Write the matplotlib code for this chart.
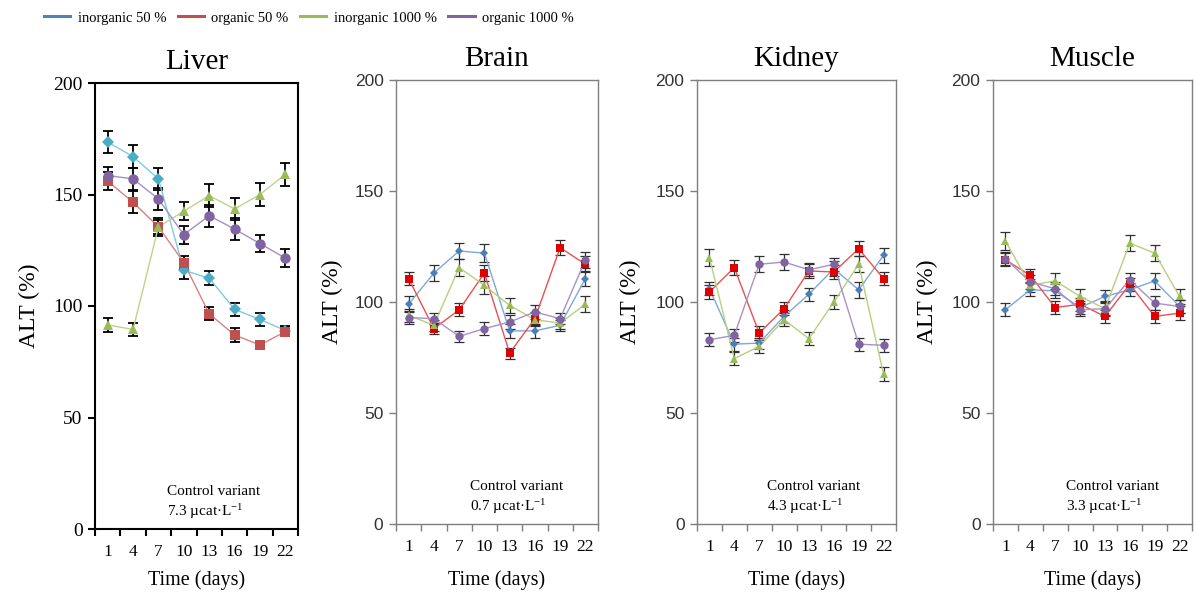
import numpy as np
import matplotlib
matplotlib.use("Agg")
import matplotlib.pyplot as plt
from matplotlib.lines import Line2D

plt.rcParams["font.family"] = ["Liberation Serif", "DejaVu Serif"]
plt.rcParams["mathtext.fontset"] = "custom"
plt.rcParams["mathtext.rm"] = "Liberation Serif"
plt.rcParams["mathtext.default"] = "rm"

# --- Data (ALT activity, % of control)
days = ["1", "4", "7", "10", "13", "16", "19", "22"]
series_names = ["inorganic 50 %", "organic 50 %", "inorganic 1000 %", "organic 1000 %"]
organs = ["Liver", "Brain", "Kidney", "Muscle"]
control_values = ["7.3", "0.7", "4.3", "3.3"]

liver_inorg50 = [173.5, 167, 157, 116, 112.5, 98.5, 94, 89]
liver_org50 = [156, 146.5, 135.5, 119.5, 96.5, 87, 82.5, 88.5]
liver_inorg1000 = [91.5, 89.5, 135.5, 142.5, 149.5, 143.5, 150, 159]
liver_org1000 = [158.5, 157, 148, 132, 140.5, 134.5, 128, 121.5]

brain_inorg50 = [99, 113, 123, 122, 87, 87, 89.5, 110.5]
brain_org50 = [110.5, 88, 96.5, 113, 77, 92.5, 124.5, 117]
brain_inorg1000 = [94, 89.5, 115.5, 107.5, 98.5, 92, 90.5, 99]
brain_org1000 = [93, 92.5, 84.5, 88, 91, 95.5, 92.5, 119]

kidney_inorg50 = [106, 81, 81.5, 93.5, 103.5, 115, 105.5, 121]
kidney_org50 = [104.5, 115.5, 86, 97, 114, 113.5, 124, 110.5]
kidney_inorg1000 = [120, 74.5, 80, 92, 83.5, 100, 117, 67.5]
kidney_org1000 = [83, 85, 117, 118, 114.5, 117, 81, 80.5]

muscle_inorg50 = [96.5, 105.5, 105, 97.5, 102.5, 105.5, 109.5, 98]
muscle_org50 = [119, 112, 97.5, 99, 93.5, 108, 93.5, 95]
muscle_inorg1000 = [127.5, 107.5, 109.5, 102.5, 97, 126.5, 122, 102.5]
muscle_org1000 = [119.5, 109, 106, 96.5, 97, 110, 99.5, 98]

# error bars (SD)
liver_err = [
    [5, 5, 5, 4, 3, 3, 3, 2],
    [4, 5, 3, 3, 3, 3, 2, 2],
    [3, 3, 4, 4, 5, 5, 5, 5],
    [4, 5, 5, 4, 5, 5, 4, 4],
]
brain_err = [
    [3.5, 3.5, 3.5, 4, 3, 3, 2.5, 3.5],
    [3, 2.5, 3, 3.5, 2.5, 3, 3.5, 3.5],
    [3, 2.5, 4, 4, 3.5, 3, 2.5, 3.5],
    [3, 2.5, 2.5, 3, 3, 3, 2.5, 3.5],
]
kidney_err = [
    [3, 3, 2.5, 3, 3, 3.5, 3.5, 3.5],
    [3, 3.5, 3, 3, 3, 3, 3.5, 3],
    [4, 3, 3, 3, 3, 3, 3.5, 3],
    [3, 3, 3.5, 3.5, 3, 3, 3, 3],
]
muscle_err = [
    [3, 3, 3, 3, 3, 3, 3.5, 3],
    [3, 3, 3, 3, 3, 3, 3, 3],
    [4, 3, 3.5, 3.5, 3.5, 3.5, 3.5, 3.5],
    [3, 3, 3, 3, 3, 3, 3, 3],
]

organ_values = [
    [liver_inorg50, liver_org50, liver_inorg1000, liver_org1000],
    [brain_inorg50, brain_org50, brain_inorg1000, brain_org1000],
    [kidney_inorg50, kidney_org50, kidney_inorg1000, kidney_org1000],
    [muscle_inorg50, muscle_org50, muscle_inorg1000, muscle_org1000],
]
organ_errors = [liver_err, brain_err, kidney_err, muscle_err]

# --- Styles
markers = ["D", "s", "^", "o"]
legend_colors = ["#4F81BD", "#C0504D", "#9BBB59", "#8064A2"]
liver_marker_colors = ["#4BACC6", "#C0504D", "#9BBB59", "#8064A2"]
liver_line_colors = ["#7FCBE0", "#D98080", "#BCD48E", "#A590C2"]
other_marker_colors = ["#4A7EBB", "#E00000", "#9BBB59", "#8064A2"]
other_line_colors = ["#7FA8DA", "#E85050", "#B5D07E", "#A891C8"]
liver_ms = [6.5, 6.5, 7, 7.5]
other_ms = [4, 5.5, 5.5, 6]

W, H = 1194, 594
fig = plt.figure(figsize=(W / 100, H / 100), dpi=100)

# axes boxes in pixels: left, right, top, bottom
boxes = [(95, 298, 83, 529), (396, 598, 80, 524), (697, 896, 80, 524), (993, 1192, 80, 524)]
ylabel_x = [-0.27, -0.263, -0.282, -0.275]
xlabel_y = [-0.092, -0.104, -0.104, -0.104]
text_x = [0.355, 0.366, 0.35, 0.365]

x = np.arange(len(days))

for k, organ in enumerate(organs):
    l, r, t, b = boxes[k]
    ax = fig.add_axes([l / W, (H - b) / H, (r - l) / W, (b - t) / H])
    liver = k == 0
    spine_col = "black" if liver else "#7f7f7f"
    spine_lw = 1.5 if liver else 1.0

    for i in range(4):
        ax.errorbar(
            x, organ_values[k][i], yerr=organ_errors[k][i],
            fmt="none", ecolor="black" if liver else "#303030",
            elinewidth=1.3 if liver else 0.9, capsize=3.5,
            capthick=1.3 if liver else 0.9, zorder=2,
        )
        ax.plot(
            x, organ_values[k][i],
            color=(liver_line_colors if liver else other_line_colors)[i],
            lw=1.0, zorder=3,
        )
        ax.plot(
            x, organ_values[k][i], linestyle="none", marker=markers[i],
            ms=(liver_ms if liver else other_ms)[i],
            color=(liver_marker_colors if liver else other_marker_colors)[i],
            markeredgewidth=0, zorder=4,
        )

    ax.set_xlim(-0.5, len(days) - 0.5)
    ax.set_ylim(0, 200)
    ax.set_yticks([0, 50, 100, 150, 200])

    # category axis: tick marks on the boundaries, labels in the middle
    ax.set_xticks(np.arange(len(days) + 1) - 0.5)
    ax.set_xticklabels([])
    ax.set_xticks(x, minor=True)
    ax.set_xticklabels(days, minor=True, fontsize=12.5)
    ax.tick_params(axis="x", which="major", direction="out", length=5,
                   width=spine_lw, color=spine_col)
    ax.tick_params(axis="x", which="minor", length=0, pad=11)
    ax.tick_params(axis="y", direction="out", length=5, width=spine_lw,
                   color=spine_col, pad=4)
    for lab in ax.get_yticklabels():
        if liver:
            lab.set_fontsize(14)
        else:
            lab.set_fontfamily("Liberation Sans")
            lab.set_fontsize(12.5)
            lab.set_color("#333333")

    for s in ax.spines.values():
        s.set_color(spine_col)
        s.set_linewidth(spine_lw)

    ax.set_title(organ, fontsize=21, pad=10)
    ax.set_ylabel("ALT (%)", fontsize=17)
    ax.yaxis.set_label_coords(ylabel_x[k], 0.5)
    ax.set_xlabel("Time (days)", fontsize=14.5)
    ax.xaxis.set_label_coords(0.5, xlabel_y[k])

    ax.text(text_x[k], 0.085, "Control variant", transform=ax.transAxes,
            fontsize=11, va="center", ha="left")
    ax.text(text_x[k], 0.04, control_values[k] + r" µcat·L$^{-1}$",
            transform=ax.transAxes, fontsize=11, va="center", ha="left")

handles = [Line2D([], [], color=c, lw=2.2) for c in legend_colors]
fig.legend(handles, series_names, loc="center left",
           bbox_to_anchor=(44 / W, 1 - 18 / H), ncol=4, frameon=False,
           fontsize=10.5, handlelength=1.8, handletextpad=0.5,
           columnspacing=0.8, borderpad=0, borderaxespad=0)

fig.savefig("out.png", dpi=100)
